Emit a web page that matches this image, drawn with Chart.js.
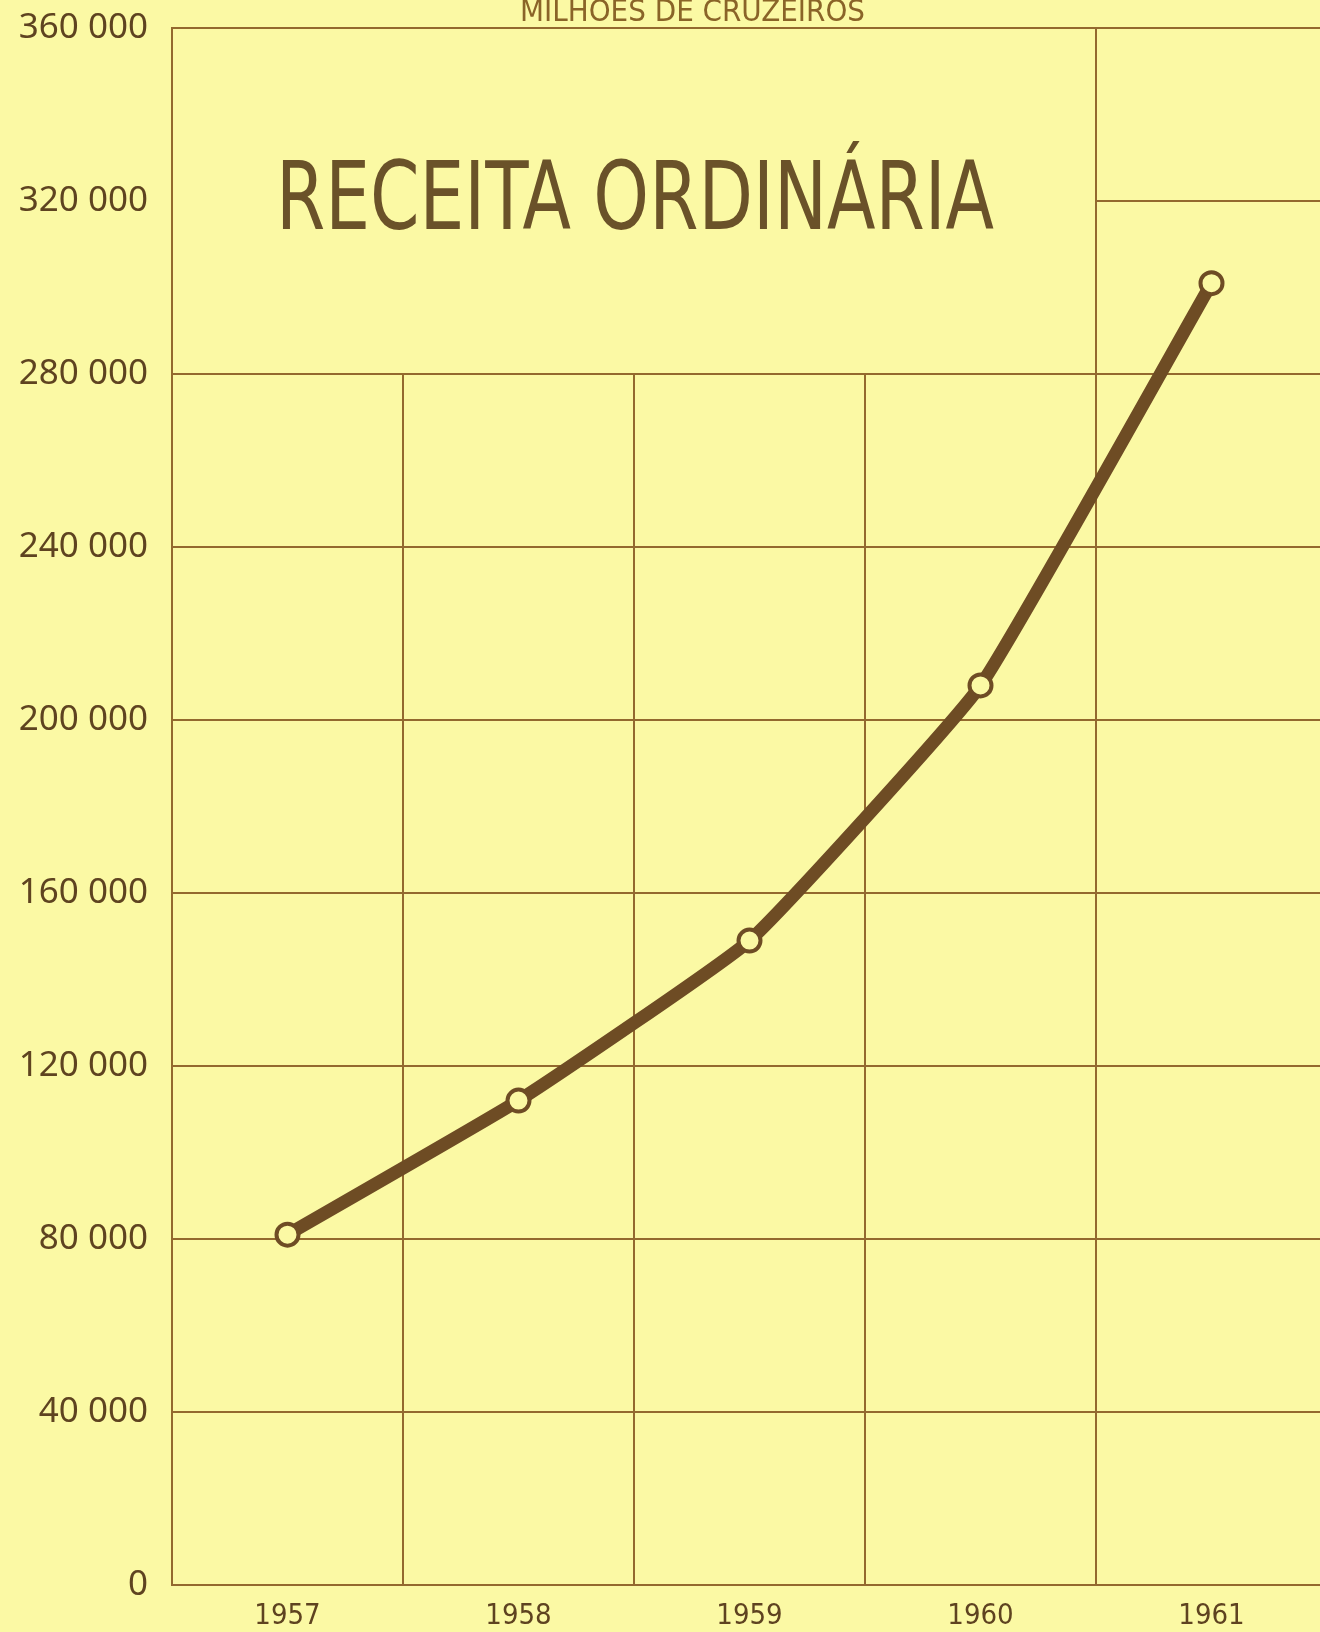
<!DOCTYPE html>
<html><head><meta charset="utf-8">
<script src="https://cdn.jsdelivr.net/npm/chart.js@4"></script>
<style>
html,body{margin:0;padding:0;background:#fbf9a4;overflow:hidden}
#wrap{width:1342px;height:1632px;position:relative}
</style></head>
<body><div id="wrap"><canvas id="c"></canvas></div>
<script>
const years = ['1957', '1958', '1959', '1960', '1961'];
const receita = [81000, 112000, 149000, 208000, 301000];
const yMin = 0, yMax = 360000, yStep = 40000;
const titleBoxFloor = 280000;   // grid value where the title box ends
const splitLine = 320000;       // extra gridline in last column
const chartTitle = 'RECEITA ORDINÁRIA';
const unitLabel = 'MILHÕES DE CRUZEIROS';

const bg = '#fbf9a4';
const gridColor = '#93692e';
const lineColor = '#6e4c24';
const textColor = '#5e4320';

function fitText(ctx, text, left, baseline, width, font, color){
  ctx.save();
  ctx.font = font;
  ctx.fillStyle = color;
  ctx.textBaseline = 'alphabetic';
  ctx.textAlign = 'left';
  const w = ctx.measureText(text).width;
  ctx.translate(left, baseline);
  ctx.scale(width / w, 1);
  ctx.fillText(text, 0, 0);
  ctx.restore();
}

const decor = {
  id: 'decor',
  beforeDraw(chart){
    const ctx = chart.ctx;
    ctx.save();
    ctx.fillStyle = bg;
    ctx.fillRect(0, 0, chart.width, chart.height);
    ctx.restore();
  },
  beforeDatasetsDraw(chart){
    const {ctx, chartArea: a, scales: {x, y}} = chart;
    ctx.save();
    ctx.strokeStyle = gridColor;
    ctx.lineWidth = 2;
    const n = years.length;
    for (let i = 1; i < n; i++){
      const px = (x.getPixelForValue(i - 1) + x.getPixelForValue(i)) / 2;
      const top = (i === n - 1) ? a.top : y.getPixelForValue(titleBoxFloor);
      ctx.beginPath(); ctx.moveTo(px, top); ctx.lineTo(px, a.bottom); ctx.stroke();
    }
    const xs = (x.getPixelForValue(n - 2) + x.getPixelForValue(n - 1)) / 2;
    const py = y.getPixelForValue(splitLine);
    ctx.beginPath(); ctx.moveTo(xs, py); ctx.lineTo(a.right, py); ctx.stroke();
    ctx.restore();

    fitText(ctx, chartTitle, 276, 229, 718, '94px "DejaVu Sans Condensed"', '#6a5229');
    fitText(ctx, unitLabel, 520, 21, 345, '30px "DejaVu Sans Condensed"', '#8a6428');
  }
};

new Chart(document.getElementById('c'), {
  type: 'line',
  data: {
    labels: years,
    datasets: [{
      data: receita,
      borderColor: lineColor,
      borderWidth: 13,
      tension: 0.12,
      pointRadius: 11,
      pointHoverRadius: 11,
      pointBorderWidth: 4,
      pointBorderColor: lineColor,
      pointBackgroundColor: bg,
      fill: false
    }]
  },
  options: {
    responsive: true,
    maintainAspectRatio: false,
    devicePixelRatio: 1,
    animation: false,
    layout: {padding: {top: 28, right: 3, left: 0, bottom: 0}},
    plugins: {legend: {display: false}, tooltip: {enabled: false}, title: {display: false}},
    scales: {
      x: {
        type: 'category',
        offset: true,
        grid: {display: false, drawTicks: false},
        border: {display: true, color: gridColor, width: 2},
        ticks: {
          color: textColor,
          padding: 14,
          font: {family: '"DejaVu Sans Condensed"', size: 29}
        },
        afterFit(s){ s.height = 47; s.paddingLeft = 0; s.paddingRight = 0; }
      },
      y: {
        min: yMin, max: yMax,
        grid: {
          drawTicks: false,
          lineWidth: 2,
          color: ctx => (ctx.tick && ctx.tick.value === splitLine) ? 'rgba(0,0,0,0)' : gridColor
        },
        border: {display: true, color: gridColor, width: 2},
        ticks: {
          stepSize: yStep,
          color: textColor,
          padding: 24,
          font: {family: '"Noto Sans"', size: 35},
          callback: v => String(v).replace(/\B(?=(\d{3})+(?!\d))/g, ' ')
        },
        afterFit(s){ s.width = 172; s.paddingTop = 0; s.paddingBottom = 0; }
      }
    }
  },
  plugins: [decor]
});
</script>
</body></html>
